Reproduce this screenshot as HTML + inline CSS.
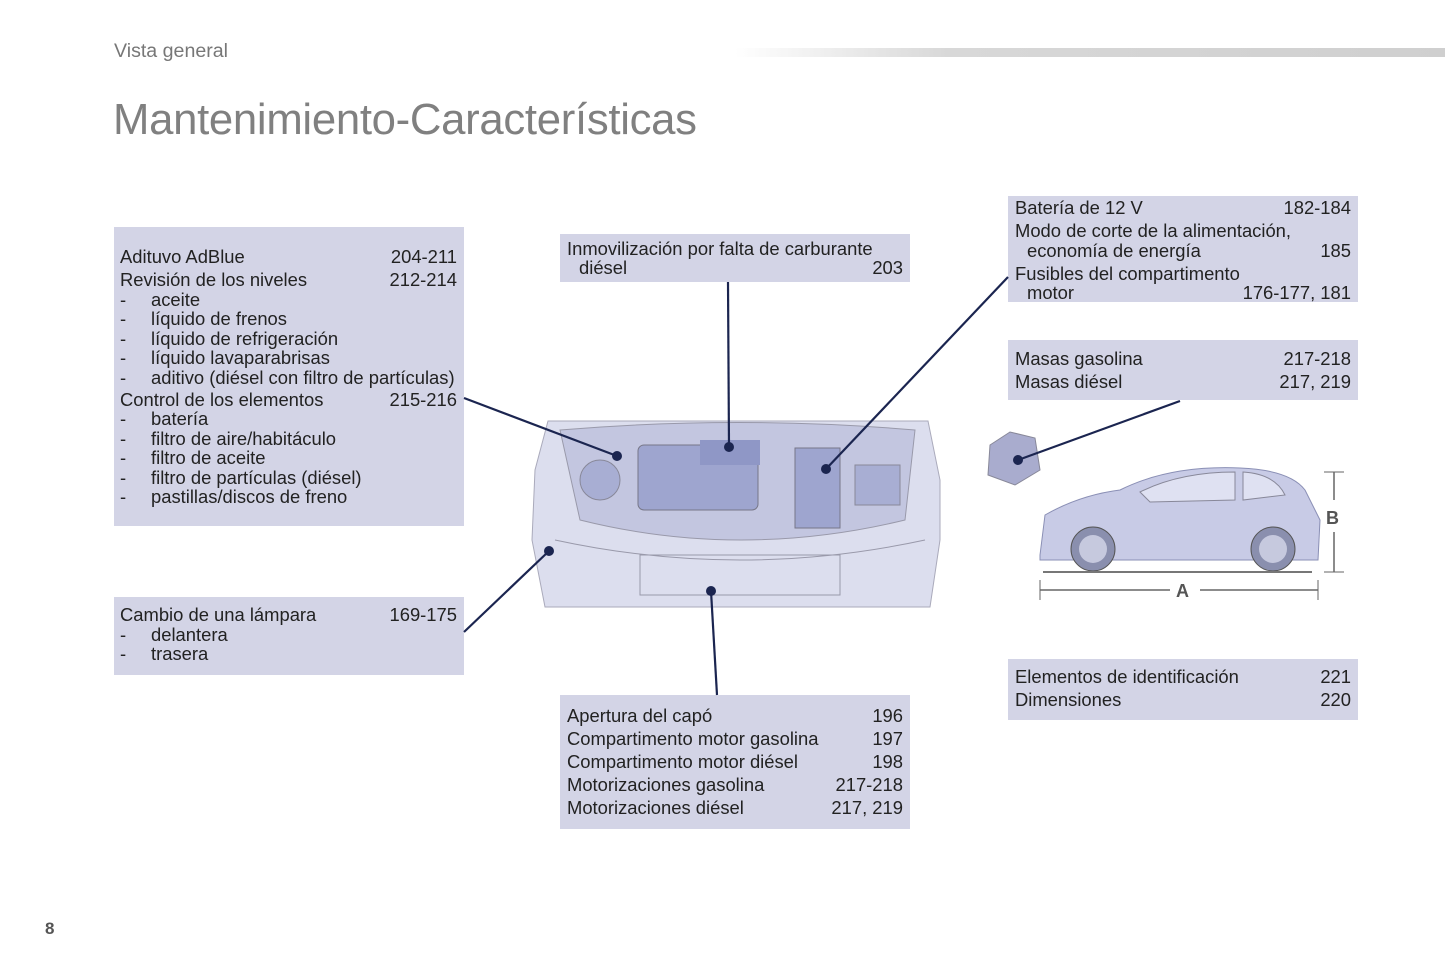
<!DOCTYPE html>
<html><head><meta charset="utf-8"><style>
body{margin:0;width:1445px;height:964px;background:#fff;position:relative;overflow:hidden;font-family:"Liberation Sans",sans-serif;}
.b{position:absolute;background:#d3d4e6;}
.l{position:absolute;height:20px;line-height:20px;font-size:18.4px;color:#222;white-space:nowrap;}
.r{position:absolute;height:20px;line-height:20px;font-size:18.4px;color:#222;text-align:right;white-space:nowrap;}
</style></head><body>
<div style="position:absolute;left:114px;top:40px;font-size:19.6px;color:#777;">Vista general</div>
<div style="position:absolute;left:735px;top:48px;width:710px;height:9px;background:linear-gradient(90deg,#fff,#d8d8d8 30%,#cfcfcf);"></div>
<div style="position:absolute;left:113px;top:95px;font-size:43.7px;color:#808080;letter-spacing:-0.3px;">Mantenimiento-Características</div>
<div style="position:absolute;left:45px;top:919px;font-size:17px;font-weight:bold;color:#555;">8</div>

<div class="b" style="left:114px;top:227px;width:350px;height:299px;"></div>
<div class="l" style="left:120px;top:247px">Adituvo AdBlue</div><div class="r" style="right:988px;top:247px">204-211</div>
<div class="l" style="left:120px;top:270px">Revisión de los niveles</div><div class="r" style="right:988px;top:270px">212-214</div>
<div class="l" style="left:120px;top:290px">-</div><div class="l" style="left:151px;top:290px">aceite</div>
<div class="l" style="left:120px;top:309px">-</div><div class="l" style="left:151px;top:309px">líquido de frenos</div>
<div class="l" style="left:120px;top:329px">-</div><div class="l" style="left:151px;top:329px">líquido de refrigeración</div>
<div class="l" style="left:120px;top:348px">-</div><div class="l" style="left:151px;top:348px">líquido lavaparabrisas</div>
<div class="l" style="left:120px;top:368px">-</div><div class="l" style="left:151px;top:368px">aditivo (diésel con filtro de partículas)</div>
<div class="l" style="left:120px;top:390px">Control de los elementos</div><div class="r" style="right:988px;top:390px">215-216</div>
<div class="l" style="left:120px;top:409px">-</div><div class="l" style="left:151px;top:409px">batería</div>
<div class="l" style="left:120px;top:429px">-</div><div class="l" style="left:151px;top:429px">filtro de aire/habitáculo</div>
<div class="l" style="left:120px;top:448px">-</div><div class="l" style="left:151px;top:448px">filtro de aceite</div>
<div class="l" style="left:120px;top:468px">-</div><div class="l" style="left:151px;top:468px">filtro de partículas (diésel)</div>
<div class="l" style="left:120px;top:487px">-</div><div class="l" style="left:151px;top:487px">pastillas/discos de freno</div>

<div class="b" style="left:560px;top:234px;width:350px;height:48px;"></div>
<div class="l" style="left:567px;top:239px">Inmovilización por falta de carburante</div>
<div class="l" style="left:579px;top:258px">diésel</div><div class="r" style="right:542px;top:258px">203</div>

<div class="b" style="left:1008px;top:196px;width:350px;height:106px;"></div>
<div class="l" style="left:1015px;top:198px">Batería de 12 V</div><div class="r" style="right:94px;top:198px">182-184</div>
<div class="l" style="left:1015px;top:221px">Modo de corte de la alimentación,</div>
<div class="l" style="left:1027px;top:241px">economía de energía</div><div class="r" style="right:94px;top:241px">185</div>
<div class="l" style="left:1015px;top:264px">Fusibles del compartimento</div>
<div class="l" style="left:1027px;top:283px">motor</div><div class="r" style="right:94px;top:283px">176-177, 181</div>

<div class="b" style="left:1008px;top:340px;width:350px;height:60px;"></div>
<div class="l" style="left:1015px;top:349px">Masas gasolina</div><div class="r" style="right:94px;top:349px">217-218</div>
<div class="l" style="left:1015px;top:372px">Masas diésel</div><div class="r" style="right:94px;top:372px">217, 219</div>

<div class="b" style="left:114px;top:597px;width:350px;height:78px;"></div>
<div class="l" style="left:120px;top:605px">Cambio de una lámpara</div><div class="r" style="right:988px;top:605px">169-175</div>
<div class="l" style="left:120px;top:625px">-</div><div class="l" style="left:151px;top:625px">delantera</div>
<div class="l" style="left:120px;top:644px">-</div><div class="l" style="left:151px;top:644px">trasera</div>

<div class="b" style="left:560px;top:695px;width:350px;height:134px;"></div>
<div class="l" style="left:567px;top:706px">Apertura del capó</div><div class="r" style="right:542px;top:706px">196</div>
<div class="l" style="left:567px;top:729px">Compartimento motor gasolina</div><div class="r" style="right:542px;top:729px">197</div>
<div class="l" style="left:567px;top:752px">Compartimento motor diésel</div><div class="r" style="right:542px;top:752px">198</div>
<div class="l" style="left:567px;top:775px">Motorizaciones gasolina</div><div class="r" style="right:542px;top:775px">217-218</div>
<div class="l" style="left:567px;top:798px">Motorizaciones diésel</div><div class="r" style="right:542px;top:798px">217, 219</div>

<div class="b" style="left:1008px;top:659px;width:350px;height:61px;"></div>
<div class="l" style="left:1015px;top:667px">Elementos de identificación</div><div class="r" style="right:94px;top:667px">221</div>
<div class="l" style="left:1015px;top:690px">Dimensiones</div><div class="r" style="right:94px;top:690px">220</div>

<svg width="1445" height="964" style="position:absolute;left:0;top:0">
<path d="M548 421 L928 421 L940 480 L940 540 L930 607 L545 607 L532 540 L535 470 Z" fill="#dcdeee" stroke="#aab" stroke-width="1"/>
<path d="M560 430 Q740 415 915 430 L905 520 Q740 560 580 520 Z" fill="#c3c6e0" stroke="#99a"/>
<rect x="638" y="445" width="120" height="65" rx="6" fill="#9ea5cf" stroke="#778"/>
<rect x="700" y="440" width="60" height="25" fill="#8f97c6"/>
<rect x="795" y="448" width="45" height="80" fill="#9ea5cf" stroke="#778"/>
<rect x="855" y="465" width="45" height="40" fill="#a8aed3" stroke="#889"/>
<circle cx="600" cy="480" r="20" fill="#a8aed3" stroke="#889"/>
<path d="M555 540 Q740 580 925 540" fill="none" stroke="#99a"/>
<rect x="640" y="555" width="200" height="40" fill="none" stroke="#99a"/>
<path d="M990 445 L1010 432 L1035 438 L1040 470 L1015 485 L988 475 Z" fill="#a9acce" stroke="#889"/>
<path d="M1040 555 L1045 515 Q1080 495 1120 490 Q1170 465 1240 468 Q1290 470 1305 490 L1320 520 L1318 560 L1040 560 Z" fill="#c8cbe6" stroke="#8a8fb5"/>
<path d="M1140 492 Q1180 472 1235 472 L1235 500 L1150 502 Z" fill="#dfe1f2" stroke="#889"/>
<path d="M1243 472 Q1275 474 1285 495 L1243 500 Z" fill="#dfe1f2" stroke="#889"/>
<circle cx="1093" cy="549" r="22" fill="#8a8fae" stroke="#555"/><circle cx="1093" cy="549" r="14" fill="#c6c9de"/>
<circle cx="1273" cy="549" r="22" fill="#8a8fae" stroke="#555"/><circle cx="1273" cy="549" r="14" fill="#c6c9de"/>
<line x1="1043" y1="572" x2="1312" y2="572" stroke="#777" stroke-width="2"/>
<line x1="1040" y1="590" x2="1170" y2="590" stroke="#666" stroke-width="1.5"/>
<line x1="1200" y1="590" x2="1318" y2="590" stroke="#666" stroke-width="1.5"/>
<line x1="1040" y1="580" x2="1040" y2="600" stroke="#666"/><line x1="1318" y1="580" x2="1318" y2="600" stroke="#666"/>
<text x="1176" y="597" font-family="Liberation Sans" font-weight="bold" font-size="18" fill="#555">A</text>
<line x1="1334" y1="472" x2="1334" y2="500" stroke="#666" stroke-width="1.5"/>
<line x1="1334" y1="532" x2="1334" y2="572" stroke="#666" stroke-width="1.5"/>
<line x1="1324" y1="472" x2="1344" y2="472" stroke="#666"/><line x1="1324" y1="572" x2="1344" y2="572" stroke="#666"/>
<text x="1326" y="524" font-family="Liberation Sans" font-weight="bold" font-size="18" fill="#555">B</text>
<g stroke="#1b2550" stroke-width="2.2" fill="none">
<line x1="464" y1="398" x2="617" y2="456"/>
<line x1="728" y1="282" x2="729" y2="447"/>
<line x1="1008" y1="277" x2="826" y2="469"/>
<line x1="1180" y1="401" x2="1018" y2="460"/>
<line x1="464" y1="632" x2="549" y2="551"/>
<line x1="717" y1="695" x2="711" y2="591"/>
</g>
<g fill="#1b2550">
<circle cx="617" cy="456" r="5"/><circle cx="729" cy="447" r="5"/><circle cx="826" cy="469" r="5"/>
<circle cx="1018" cy="460" r="5"/><circle cx="549" cy="551" r="5"/><circle cx="711" cy="591" r="5"/>
</g>
</svg>
</body></html>
